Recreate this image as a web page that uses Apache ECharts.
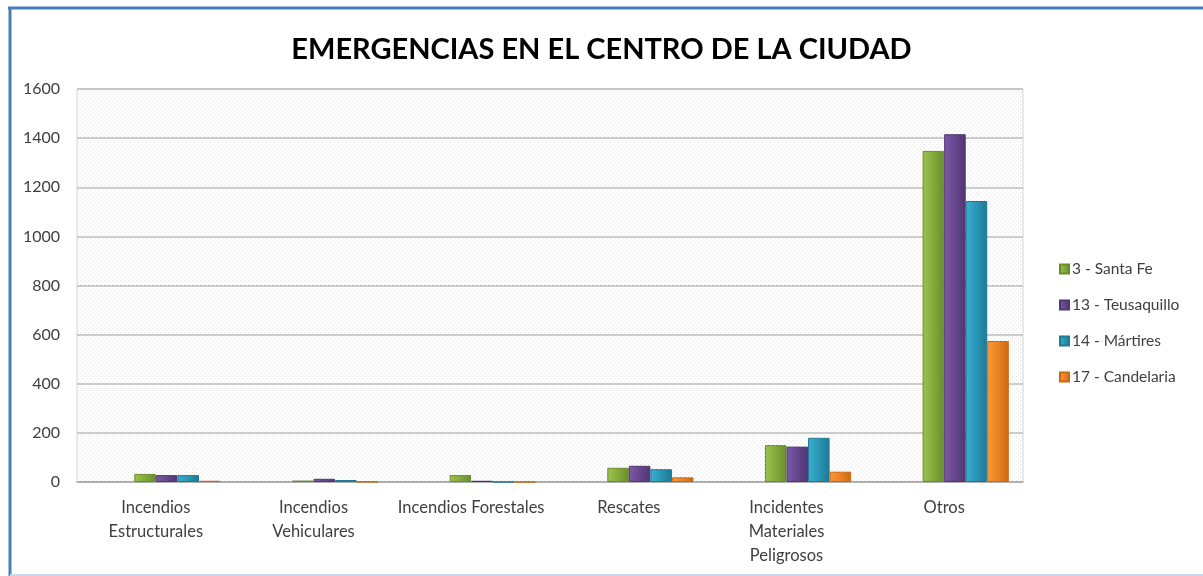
<!DOCTYPE html>
<html>
<head>
<meta charset="utf-8">
<title>Emergencias en el centro de la ciudad</title>
<script src="https://cdn.jsdelivr.net/npm/echarts@6/dist/echarts.min.js"></script>
<style>
  html, body { margin: 0; padding: 0; background: #fff; }
  #chart { width: 1203px; height: 576px; }
</style>
</head>
<body>
<div id="chart"></div>
<script>
// datos
const categorias = [
  "Incendios\nEstructurales",
  "Incendios\nVehiculares",
  "Incendios Forestales",
  "Rescates",
  "Incidentes\nMateriales\nPeligrosos",
  "Otros"
];
const santaFe = [33, 6, 28, 58, 150, 1348];
const teusaquillo = [28, 13, 5, 66, 144, 1416];
const martires = [28, 8, 0, 52, 180, 1144];
const candelaria = [5, 1, 0, 19, 42, 574];
const nombres = ["3 - Santa Fe", "13 - Teusaquillo", "14 - Mártires", "17 - Candelaria"];
const yTicks = [0, 200, 400, 600, 800, 1000, 1200, 1400, 1600];

// fondo punteado del area de trazado
function dotPattern() {
  const c = document.createElement("canvas");
  c.width = 4;
  c.height = 4;
  const ctx = c.getContext("2d");
  ctx.fillStyle = "#ffffff";
  ctx.fillRect(0, 0, 4, 4);
  ctx.fillStyle = "#e4e4e4";
  ctx.fillRect(0, 0, 1, 1);
  ctx.fillRect(2, 2, 1, 1);
  return { image: c, repeat: "repeat" };
}

function barStyle(light, mid, dark) {
  return {
    color: new echarts.graphic.LinearGradient(0, 0, 1, 0, [
      { offset: 0, color: light },
      { offset: 0.45, color: mid },
      { offset: 1, color: dark }
    ]),
    borderColor: dark,
    borderWidth: 1
  };
}

const estilos = [
  barStyle("#9cc24e", "#86ad3c", "#6a8c2c"),
  barStyle("#7d5aa6", "#68488f", "#503672"),
  barStyle("#3cb0d2", "#2a98b8", "#1f7894"),
  barStyle("#f79a3c", "#ee8424", "#c96a14")
];
const valores = [santaFe, teusaquillo, martires, candelaria];

const fuente = "Lato, 'Open Sans', sans-serif";
const mychart = echarts.init(document.getElementById("chart"));

// dos series vacias al inicio desplazan los grupos a la derecha como en el original
const series = [
  { name: "_a", type: "bar", data: [], barGap: 0, barCategoryGap: "18%" },
  { name: "_b", type: "bar", data: [], barGap: 0, barCategoryGap: "18%" }
];
valores.forEach((v, i) => {
  series.push({
    name: nombres[i],
    type: "bar",
    data: v,
    barGap: 0,
    barCategoryGap: "18%",
    itemStyle: estilos[i]
  });
});

const option = {
  animation: false,
  backgroundColor: "#ffffff",
  textStyle: { fontFamily: fuente },
  title: {
    text: "EMERGENCIAS EN EL CENTRO DE LA CIUDAD",
    left: "center",
    top: 30,
    textStyle: {
      fontFamily: fuente,
      fontSize: 29,
      fontWeight: "bold",
      color: "#000"
    }
  },
  legend: {
    data: nombres,
    orient: "vertical",
    left: 1054,
    top: 256,
    itemGap: 20,
    itemWidth: 9,
    itemHeight: 9,
    icon: "rect",
    textStyle: { fontFamily: fuente, fontSize: 15.5, color: "#404040", padding: [0, 0, 0, -2] }
  },
  grid: {
    left: 77,
    right: 180,
    top: 89,
    bottom: 94,
    show: true,
    backgroundColor: dotPattern(),
    borderColor: "#d4d4d4",
    borderWidth: 1
  },
  xAxis: {
    type: "category",
    data: categorias,
    axisLine: { lineStyle: { color: "#a6a6a6", width: 1.5 } },
    axisTick: { show: false },
    axisLabel: {
      interval: 0,
      margin: 14,
      fontSize: 16.5,
      lineHeight: 24,
      color: "#404040",
      fontFamily: fuente
    }
  },
  yAxis: {
    type: "value",
    min: yTicks[0],
    max: yTicks[yTicks.length - 1],
    interval: 200,
    axisLine: { show: false },
    axisTick: { show: false },
    axisLabel: {
      fontSize: 16,
      color: "#404040",
      margin: 17,
      fontFamily: fuente,
      formatter: (v) => String(v)
    },
    splitLine: { lineStyle: { color: "#bdbdbd", width: 1.5 } }
  },
  graphic: [
    { type: "line", shape: { x1: 8, y1: 8, x2: 1203, y2: 8 }, style: { stroke: "#4a7ebb", lineWidth: 3 } },
    { type: "line", shape: { x1: 10, y1: 7, x2: 10, y2: 576 }, style: { stroke: "#4a7ebb", lineWidth: 3 } },
    { type: "line", shape: { x1: 10, y1: 575, x2: 1203, y2: 575 }, style: { stroke: "#c9d5ea", lineWidth: 2 } }
  ],
  series: series
};

mychart.setOption(option);
window.addEventListener("resize", () => {
  mychart.resize();
});
</script>
</body>
</html>
